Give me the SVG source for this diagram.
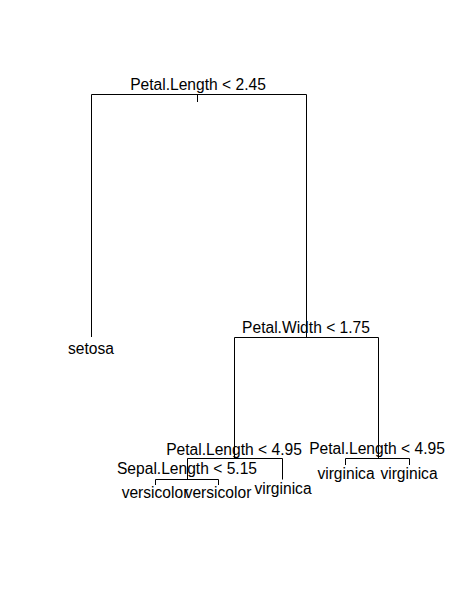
<svg xmlns="http://www.w3.org/2000/svg" width="463" height="599" viewBox="0 0 463 599">
<style>
.e{stroke:#000;stroke-width:1;fill:none}
text{font-family:"Liberation Sans",Arial,sans-serif;font-size:15.6px;fill:#000;text-anchor:middle}
</style>
<rect width="463" height="599" fill="#fff"/>
<g id="connectors">
<path class="e" d="M197.5,94.5V102"/>
<path class="e" d="M91.5,337V94.5H306.5V337.5"/>
<path class="e" d="M234.5,458.5V337.5H378.5V458.5"/>
<path class="e" d="M187.5,479.5V458.5H282.5V479.5"/>
<path class="e" d="M345.5,465V458.5H409.5V465"/>
<path class="e" d="M155.5,485V479.5H218.5V485"/>
</g>
<g id="n1"><text x="198" y="90">Petal.Length &lt; 2.45</text></g>
<g id="n2"><text x="91" y="354">setosa</text></g>
<g id="n3"><text x="306" y="333">Petal.Width &lt; 1.75</text></g>
<g id="n4"><text x="234" y="455">Petal.Length &lt; 4.95</text></g>
<g id="n5"><text x="377" y="454">Petal.Length &lt; 4.95</text></g>
<g id="n6"><text x="187" y="474">Sepal.Length &lt; 5.15</text></g>
<g id="n7"><text x="283" y="494">virginica</text></g>
<g id="n8"><text x="155" y="498">versicolor</text></g>
<g id="n9"><text x="218" y="498">versicolor</text></g>
<g id="n10"><text x="346" y="479">virginica</text></g>
<g id="n11"><text x="409" y="479">virginica</text></g>
</svg>
